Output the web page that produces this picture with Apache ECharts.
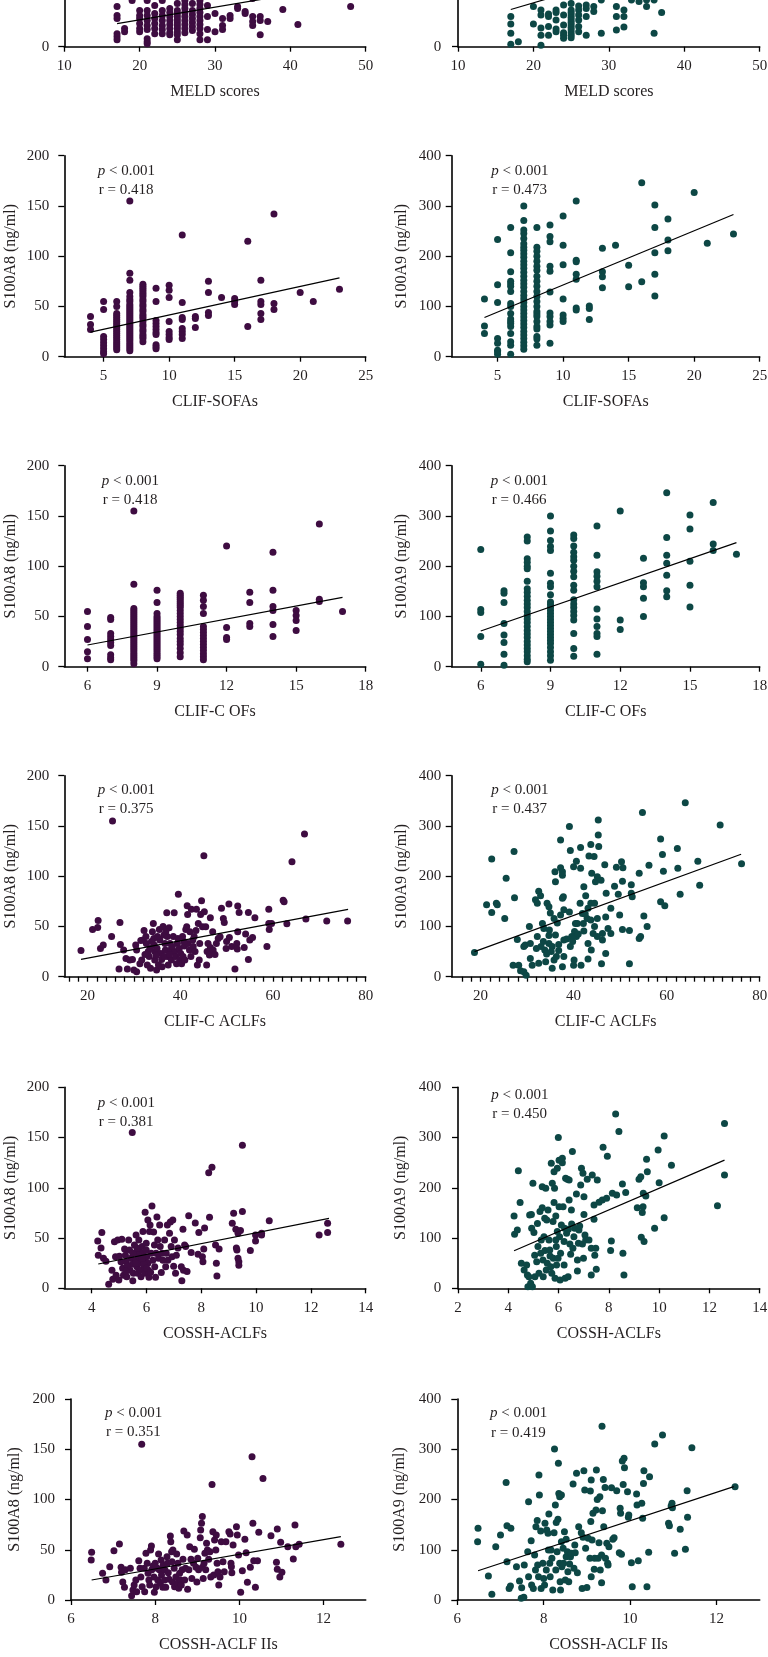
<!DOCTYPE html>
<html><head><meta charset="utf-8">
<script src="https://cdn.jsdelivr.net/npm/echarts@6/dist/echarts.min.js"></script>
<style>html,body{margin:0;padding:0;background:#fff}#c{width:768px;height:1657px}</style>
</head><body><div id="c"></div>
<script>
// ---------- tick labels ----------
const tickMELD = [10,20,30,40,50];
const tickSOFA = [5,10,15,20,25];
const tickOF = [6,9,12,15,18];
const tickACLF = [20,40,60,80];
const minorACLF = [16,18,20,22,24,26,28,30,32,34,36,38,40,42,44,46,48,50,52,54,56,58,60,62,64,66,68,70,72,74,76,78,80];
const tickCOSSH_L = [4,6,8,10,12,14];
const tickCOSSH_R = [2,4,6,8,10,12,14];
const tickCOSSH2 = [6,8,10,12];
const tickA8 = [0,50,100,150,200];
const tickA9 = [0,100,200,300,400];

// ---------- data ----------
const meldA8 = [[17,40],[17,31],[17,28],[17,13],[17,10],[17,7],[18,18],[18,15],[19,46],[20,36],[20,31],[20,28],[20,23],[20,18],[20,15],[21,46],[21,36],[21,31],[21,26],[21,21],[21,17],[21,8],[21,5],[21,3],[22,41],[22,33],[22,28],[22,23],[22,18],[22,13],[23,46],[23,36],[23,31],[23,26],[23,21],[23,17],[23,13],[24,38],[24,34],[24,30],[24,26],[24,22],[24,18],[24,14],[24,12],[25,43],[25,36],[25,33],[25,30],[25,27],[25,24],[25,21],[25,18],[25,15],[25,12],[25,7],[26,46],[26,42],[26,38],[26,34],[26,30],[26,26],[26,22],[26,18],[26,14],[27,43],[27,36],[27,32],[27,28],[27,24],[27,20],[27,16],[28,46],[28,42],[28,38],[28,34],[28,30],[28,26],[28,22],[28,18],[28,13],[28,7],[29,41],[29,30],[29,17],[29,7],[30,33],[30,15],[31,28],[31,21],[31,17],[32,31],[32,28],[33,40],[33,38],[34,35],[34,33],[35,30],[35,25],[35,21],[36,30],[36,26],[36,12],[37,25],[39,37],[41,22],[48,40],
  [17,55],[19,52],[20,60],[21,155],[22,50],[22,65],[23,55],[24,72],[24,58],[25,50],[25,63],[26,83],[26,55],[27,68],[27,50],[28,76],[28,58],[29,52],[29,115],[30,121],[30,55],[31,64],[32,50],[33,142],[34,57],[35,48],[36,66],[38,53],[40,71],[44,56]];
const meldA9 = [[17,60],[17,45],[17,27],[17,5],[18,10],[20,80],[20,45],[21,73],[21,63],[21,37],[21,23],[21,3],[22,65],[22,60],[22,40],[22,23],[23,73],[23,68],[23,53],[23,35],[23,30],[24,83],[24,63],[24,43],[24,28],[24,23],[24,17],[25,86],[25,73],[25,68],[25,63],[25,58],[25,53],[25,48],[25,43],[25,38],[25,33],[25,28],[25,23],[25,18],[26,81],[26,73],[26,63],[26,53],[26,40],[26,30],[27,83],[27,76],[27,60],[27,23],[28,80],[28,70],[29,93],[29,27],[31,80],[31,60],[31,33],[32,73],[32,60],[32,39],[33,93],[34,90],[35,93],[35,80],[36,93],[36,27],[37,68],
  [17,116],[19,143],[20,234],[20,130],[21,209],[21,110],[22,150],[22,172],[23,120],[23,199],[24,250],[24,105],[25,140],[25,300],[26,160],[26,217],[26,271],[27,125],[27,189],[28,230],[28,101],[29,157],[30,180],[30,260],[31,140],[31,311],[32,205],[33,120],[34,245],[35,160],[36,225],[38,302],[40,280],[42,346],[44,328],[46,222],[48,190]];

const sofaA8Cols = [[4,[40,32,27]],[5,[55,47,20,17,14,11,8,5,3]],
  [6,[55,50,43,41,39,37,35,33,31,29,27,25,23,21,19,17,15,13,11,9,7]],
  [7,[155,83,76,64,60,57,55,52,50,48,46,44,42,40,38,36,34,32,30,28,26,24,22,20,18,16,14,12,10,8,6]],
  [8,[72,70,68,66,64,62,60,57,55,52,50,47,45,42,40,38,35,32,30,27,25,22,20,18,15]],
  [9,[68,55,36,33,30,27,24,22,12,10,8]],[10,[71,66,59,35,25,22,19,17]],[11,[121,54,39,37,28,25,22,18]],
  [12,[40,38,29]],[13,[75,64,44,41]],[14,[59]],[15,[58,55,52]],[16,[115,30]],[17,[76,55,52,43,37]],
  [18,[142,53,47]],[20,[64]],[21,[55]],[23,[67]]];
const sofaA9Cols = [[4,[115,61,46]],[5,[233,143,108,36,27,13,10,5]],
  [6,[257,207,169,150,145,140,130,106,100,86,75,70,66,60,46,30,23,5]],
  [7,[300,271,252,245,235,225,218,212,205,198,190,183,176,168,160,152,145,138,130,122,115,108,100,93,86,79,72,65,58,50,43,36,29,22,15]],
  [8,[257,218,210,200,190,180,172,160,150,140,130,120,110,100,90,85,80,70,60,55,40,35,23]],
  [9,[262,239,229,180,170,129,87,80,70,63,27]],[10,[280,222,183,115,83,76,70]],[11,[310,192,189,164,154,97,93]],
  [12,[101,96,74]],[13,[216,169,159,137]],[14,[222]],[15,[182,139]],[16,[346,149]],[17,[302,257,207,164,121]],
  [18,[274,232,211]],[20,[327]],[21,[226]],[23,[244]]];

const ofA8Cols = [[6,[55,40,27,15,8]],[7,[49,47,33,30,27,24,21,12,9,7]],
  [8,[155,82,58,56,54,52,50,48,46,44,42,40,38,36,34,32,30,28,26,24,22,20,18,16,14,12,10,8,6,3]],
  [9,[76,64,53,50,48,46,44,42,40,38,36,34,32,30,28,26,24,22,20,18,16,14,12,10,8]],
  [10,[73,71,69,67,65,63,61,59,56,53,50,47,44,41,38,35,32,28,25,22,18,14,10]],
  [11,[71,66,60,53,40,37,34,31,28,25,22,19,16,13,10,7]],
  [12,[120,39,29,27]],[13,[74,64,43,40]],[14,[114,76,60,56,42,30]],[15,[56,51,46,36]],[16,[142,67,65]],[17,[55]]];
const ofA9Cols = [[6,[233,114,108,60,5]],[7,[151,146,128,86,63,48,25,3]],
  [8,[258,250,215,208,200,195,170,155,148,140,132,125,118,110,102,95,88,80,72,65,58,50,43,36,30,22,15,10]],
  [9,[300,270,251,239,231,186,166,159,143,129,124,118,112,106,100,94,88,82,76,70,64,58,52,46,38,30,22,13]],
  [10,[262,255,240,228,219,212,200,190,179,162,152,133,125,118,110,102,93,66,36,21]],
  [11,[280,222,189,180,170,159,115,95,80,66,60,25]],
  [12,[310,93,74]],[13,[216,167,159,136,100]],[14,[346,257,222,206,182,151,139]],[15,[302,274,210,162,119]],[16,[327,244,231]],[17,[224]]];

const aclfA8 = [[18.6,26],[21.1,47],[22.3,56],[22.2,49],[22.8,28],[23.4,31.5],[25.2,40],[25.4,155],[27,54],[27.1,32],[27.8,26.5],[26.8,7.6],[28.3,18],[29.1,16.6],[28.6,7.6],[29.7,17],[30,6.6],[30.6,5],[30.4,31.5],[30.6,26.5],[31.3,13],[31.7,16.6],[32.2,46],[32,36.5],[32.6,40],[32.7,33],[33.1,25],[32.9,11.6],[33.3,20],[33.6,8.3],[34.2,53],[34,44.8],[34.3,38],[34.4,31.5],[34.5,25],[34.5,16.6],[34.9,6.6],[35,28],[35.5,47],[35.6,36.5],[35.8,23],[36,17],[36.1,10],[36.3,50],[36.5,41.5],[36.7,33],[36.8,26.5],[37.1,63.7],[37.2,40],[37.3,20],[37.4,11.6],[37.6,48.8],[37.8,33],[37.9,26.5],[38.1,16.6],[38.5,40],[38.7,63.7],[38.8,25],[39,20],[39.2,13],[39.6,82],[39.4,33],[39.8,28],[39.9,16.6],[40.1,23],[40.3,13],[40.5,40],[40.6,20],[40.9,30.5],[41,16.6],[41.2,47],[41.4,49.7],[41.5,70.6],[41.6,62],[41.7,33],[42,26.5],[42.1,44.8],[42.4,67],[42.7,36.5],[42.8,30],[43.2,25],[43.4,46],[43.5,67],[43.7,11.6],[43.9,53],[44.1,16.6],[44.2,33],[44.4,62],[44.6,75.6],[44.8,49.7],[45.1,120.4],[45.2,64.7],[45.5,49.7],[45.7,11.6],[45.8,25],[46,33],[46.3,21.5],[46.5,29],[46.5,58.7],[47,44.8],[47.1,26.5],[47.5,22],[47.8,33],[48.2,38],[48.6,39.8],[48.9,68],[49.3,58],[49.5,54],[49.9,28],[50,35],[50.5,72.3],[50.6,39],[51.1,30],[51.8,7.6],[52.2,33],[52.3,27.5],[52.4,44.8],[52.4,70.3],[52.7,64],[53.8,29],[54.1,42.5],[54.7,64],[54.7,17],[55,36.5],[55.6,39],[56.1,58.7],[58.7,30],[59.1,67],[59.1,53],[59.2,47],[59.7,53],[62.2,76],[62.4,74.6],[63,52.7],[64.1,114.4],[66.8,142],[67.1,57.4],[71.6,55.4],[76.1,55.4],
  [33.5,28],[34.8,21],[35.3,12],[36.6,20],[37.7,22],[38.3,30],[33.8,35],[35.1,40],[36.9,45],[31.5,36],[32.4,22],[39.5,38],[40.8,35],[42.3,20],[43,40]];
const aclfA9 = [[18.7,48],[21.3,143],[22.4,234],[22.4,128],[23.4,146],[23.6,143],[25.2,116],[25.5,196],[27.2,249],[27.3,157],[27,23],[27.9,74],[28.2,23],[28.6,12],[29.3,10],[29.8,3],[29.3,60],[29.6,63],[30.5,100],[30.7,66],[30.7,36],[31.1,23],[31.8,153],[32.2,146],[32.5,170],[32.9,161],[32.2,80],[32,56],[32.5,27],[33.3,106],[33.6,96],[33.8,53],[34,30],[34.3,146],[34.7,139],[35,127],[34.8,93],[34.7,82],[34.7,66],[35.4,60],[35.8,33],[35.4,17],[36,209],[36.1,189],[35.8,116],[36.5,107],[36.1,83],[36.8,52],[37.2,272],[37.2,217],[37.6,209],[37.6,202],[37.8,159],[37.6,156],[37.9,133],[37.2,123],[37.9,73],[37.9,40],[37.6,20],[39.1,299],[39.3,251],[39.1,129],[39.6,80],[39.3,60],[40,219],[40.2,90],[40.4,106],[40.1,33],[40,23],[40.6,230],[40.8,106],[40.6,80],[41.5,216],[41.5,257],[41.4,146],[41.9,126],[41.6,23],[42.2,179],[42.6,161],[42.1,106],[42.2,91],[43.1,136],[42.9,116],[43.1,66],[43.1,35],[43.3,240],[43.7,263],[43.7,146],[43.7,113],[43.8,53],[43.9,206],[44.4,239],[44.5,100],[44.5,146],[44.2,86],[44.7,189],[45.1,199],[45.3,282],[45.3,312],[45.4,259],[45.1,116],[45.1,80],[45.9,192],[46.2,73],[46.2,86],[46,26],[46.7,223],[46.9,119],[47,166],[46.9,46],[47.4,96],[48,86],[48,136],[48.8,180],[49.2,218],[49.6,164],[49.9,123],[50.3,229],[50.5,190],[50.5,94],[50.6,217],[52,92],[52,26],[52.4,183],[52.4,166],[52.6,159],[54.1,206],[54.1,76],[54.4,80],[54.8,327],[55.1,121],[55.8,100],[56.2,222],[58.7,274],[59.1,243],[59.3,210],[58.7,149],[59.6,141],[62.3,255],[62.4,216],[62.9,164],[64,346],[66.7,230],[67.1,182],[71.5,302],[76.1,225],
  [33.5,70],[34.2,45],[35.2,50],[36.3,40],[38.5,75],[39.8,70],[41,85],[42.5,125],[36.8,64],[33,60]];

const cosshA8 = [[4.22,47],[4.37,55.4],[4.24,33],[4.34,40],[4.43,30],[4.52,27],[4.62,4],[4.77,9],[4.83,46.4],[4.87,31.5],[4.74,18],[4.89,13],[4.95,48],[4.99,8.3],[5.01,32],[5.07,26.5],[5.1,48.8],[5.13,20],[5.16,13],[5.2,39],[5.23,33],[5.26,26.5],[5.28,11.6],[5.35,48],[5.38,38],[5.4,18],[5.44,30],[5.48,24],[5.5,7.6],[5.48,155],[5.52,15],[5.56,43],[5.59,35],[5.62,53],[5.62,28],[5.65,21.5],[5.68,15],[5.72,48],[5.72,38],[5.74,31.5],[5.77,25],[5.8,18],[5.8,11.6],[5.84,41.5],[5.87,35],[5.87,56.4],[5.89,28],[5.93,21.5],[5.95,15],[5.95,75.6],[5.99,44.8],[5.99,38],[6.01,31.5],[6.05,68],[6.05,25],[6.07,18],[6.09,11],[6.11,56.4],[6.13,63],[6.17,35],[6.2,82],[6.23,28],[6.26,56],[6.29,43],[6.3,21.5],[6.33,11],[6.35,35],[6.38,71],[6.41,48],[6.44,30],[6.48,63],[6.5,41.5],[6.54,15.6],[6.57,35],[6.6,28],[6.66,48],[6.7,21.5],[6.72,35],[6.76,63],[6.78,28],[6.84,54.7],[6.87,66],[6.9,41.5],[6.93,31.5],[6.96,68],[6.99,22],[7.02,48],[7.06,15],[7.09,33],[7.15,40],[7.27,21.5],[7.29,7.6],[7.33,58.7],[7.35,18],[7.39,43],[7.43,41.5],[7.48,16.6],[7.54,72.3],[7.63,35.5],[7.78,65],[7.88,34],[7.91,55.4],[8.04,31.5],[8.06,26.5],[8.12,60],[8.09,39],[8.27,115],[8.3,70.6],[8.39,120.4],[8.52,43],[8.55,25],[8.57,12.3],[8.65,39],[9.13,64.7],[9.18,74.6],[9.26,58.7],[9.28,40],[9.3,38],[9.34,30],[9.37,26.5],[9.37,23],[9.34,54.7],[9.43,57.4],[9.5,142.3],[9.5,76.3],[9.79,37.5],[9.98,53],[9.98,47],[10.2,54.7],[10.2,53],[10.48,67.3],[12.3,53],[12.61,64.7],[12.61,55.4],
  [5.3,22],[5.6,25],[5.7,33],[5.9,24],[6.0,20],[5.5,35],[5.85,30],[6.15,16],[5.25,17],[5.65,40]];
const cosshA9 = [[4.23,144],[4.25,107.5],[4.36,116],[4.4,234],[4.47,170.5],[4.52,50],[4.63,36.5],[4.73,46.4],[4.76,26.5],[4.78,3.3],[4.82,23],[4.85,146],[4.89,10],[4.92,147],[4.93,119.4],[4.96,3.3],[4.98,209],[5.02,110.8],[5.05,66],[5.06,23],[5.13,53],[5.16,129],[5.18,83],[5.22,30],[5.26,152.6],[5.29,69.7],[5.31,96],[5.35,160.5],[5.35,202],[5.38,56.4],[5.39,23],[5.42,102.8],[5.45,139.3],[5.46,75],[5.49,199],[5.51,36.5],[5.53,136],[5.55,50],[5.58,156],[5.62,96],[5.65,76.3],[5.66,64.3],[5.69,43],[5.71,249],[5.73,30],[5.75,209],[5.78,132.7],[5.79,59.7],[5.82,170.5],[5.82,232],[5.84,199],[5.86,20],[5.89,144],[5.89,96],[5.91,83],[5.92,46.4],[5.95,239],[5.95,112.8],[5.98,59.7],[5.99,300],[6.02,255],[6.02,162.5],[6.04,102.8],[6.06,16.6],[6.08,69.7],[6.11,126],[6.15,250],[6.15,258.7],[6.18,162.5],[6.22,93],[6.22,46.4],[6.24,119.4],[6.26,20],[6.28,219],[6.32,109.5],[6.35,217],[6.38,23],[6.39,117.4],[6.42,175.8],[6.42,215.6],[6.45,88],[6.48,67.7],[6.51,156],[6.52,128],[6.55,272],[6.57,79.6],[6.61,102.8],[6.64,119.4],[6.71,187.7],[6.75,56.4],[6.75,34.5],[6.79,89.6],[6.81,116],[6.84,124],[6.88,205.6],[6.91,239],[6.95,88],[6.97,229],[6.99,59.7],[7.01,147],[7.01,182.4],[7.05,106],[7.08,96],[7.14,217],[7.21,96],[7.34,225.5],[7.3,79.6],[7.3,26.5],[7.41,137.3],[7.41,165.8],[7.44,66],[7.48,79.6],[7.5,37.8],[7.54,215.6],[7.61,171],[7.74,175.8],[7.77,280.6],[7.91,179],[7.94,263],[8.07,75],[8.1,94],[8.14,189],[8.27,347],[8.31,185.7],[8.4,311.8],[8.54,207.6],[8.56,69.7],[8.6,26.5],[8.67,190.4],[9.13,160.5],[9.2,217],[9.27,222],[9.29,101.5],[9.33,151],[9.36,162.5],[9.37,189],[9.4,93],[9.47,183.7],[9.5,257],[9.53,232],[9.82,119.4],[9.96,275],[10,210],[10.2,303],[10.2,140.6],[10.49,245],[12.32,164.5],[12.6,328],[12.6,225.5]];

const cossh2A8 = [[6.49,47.4],[6.48,39.8],[6.75,26.5],[6.83,20],[6.92,33],[7.02,49],[7.15,55.7],[7.19,32.5],[7.2,27.5],[7.23,18],[7.27,12.6],[7.29,30],[7.41,31.5],[7.44,4.3],[7.47,10],[7.5,15],[7.54,20],[7.56,8.3],[7.61,39],[7.64,31.5],[7.66,23],[7.68,155],[7.69,13.3],[7.74,31.5],[7.75,8.3],[7.78,46.4],[7.81,36.5],[7.83,26.5],[7.85,20],[7.87,15],[7.89,49.7],[7.91,53.7],[7.92,30],[7.95,33.8],[7.97,23],[7.98,7.6],[8,36.5],[8.02,13.3],[8.05,31.5],[8.06,20],[8.08,45.8],[8.1,30],[8.12,16.6],[8.14,39.8],[8.15,25],[8.18,12.6],[8.19,34.8],[8.22,20],[8.23,30],[8.25,12.6],[8.28,43],[8.29,36.5],[8.31,27],[8.33,20.6],[8.36,63.7],[8.37,58],[8.39,48],[8.4,38],[8.41,18],[8.42,49.7],[8.45,31.5],[8.46,13.3],[8.49,23],[8.51,45.8],[8.53,16.6],[8.54,36.5],[8.56,11.6],[8.58,26.5],[8.6,20],[8.62,15],[8.64,30],[8.66,40.5],[8.68,68.7],[8.7,20],[8.72,31.5],[8.76,64.7],[8.77,10.6],[8.8,30],[8.82,53],[8.85,40.5],[8.87,21.5],[8.91,36.5],[8.93,50.4],[8.97,32.5],[8.99,18],[9.01,41.5],[9.03,30],[9.07,62],[9.08,69.7],[9.1,76.3],[9.12,83],[9.12,32.5],[9.14,21.5],[9.16,36.5],[9.18,46.4],[9.2,30],[9.22,56.4],[9.24,49.7],[9.27,40.5],[9.3,48],[9.32,23],[9.35,115],[9.37,68],[9.39,25],[9.41,59.7],[9.44,49.7],[9.45,64.7],[9.47,36.5],[9.49,28],[9.51,15],[9.54,23],[9.57,58],[9.61,38],[9.64,28],[9.68,58],[9.75,68],[9.78,65.7],[9.8,36.5],[9.81,33],[9.82,27],[9.85,54.7],[9.93,73],[9.95,64.7],[9.98,44.8],[10.03,7.6],[10.07,29],[10.13,60.4],[10.16,47],[10.19,17.6],[10.26,32.5],[10.3,142.6],[10.32,76.3],[10.34,39],[10.38,12.6],[10.43,39],[10.46,67.3],[10.56,121],[10.75,64],[10.88,37.5],[10.9,70.6],[10.9,30.5],[10.96,23],[10.98,57.4],[11.01,27.5],[11.15,53],[11.28,40.8],[11.32,74.6],[11.34,53],[11.42,55.4],[12.41,55.4]];
const cossh2A9 = [[6.48,142.6],[6.47,116],[6.72,47.8],[6.8,11.3],[6.89,106],[7,129.4],[7.13,234],[7.15,76.3],[7.15,148],[7.24,142.6],[7.2,23],[7.23,27.9],[7.37,66.3],[7.44,37.8],[7.48,3.3],[7.49,24.5],[7.54,5.3],[7.55,69.7],[7.63,96],[7.65,195.7],[7.65,46.4],[7.71,118],[7.72,30],[7.76,23],[7.79,89.6],[7.81,59.7],[7.82,146],[7.85,158],[7.86,69.7],[7.88,46.4],[7.89,249],[7.9,209],[7.93,137.3],[7.94,23],[7.98,73],[8,43],[8.02,30],[8.03,152.6],[8.06,59.7],[8.07,139.3],[8.1,132.7],[8.11,99.5],[8.12,171],[8.14,73],[8.15,46.4],[8.17,99.5],[8.19,83],[8.21,20],[8.24,134],[8.25,300.5],[8.27,189],[8.28,59.7],[8.29,154],[8.31,96],[8.33,160.5],[8.34,272],[8.35,212],[8.37,205.6],[8.37,73],[8.38,36.5],[8.39,20],[8.41,209],[8.41,116],[8.42,66.3],[8.45,102.8],[8.46,73],[8.48,136],[8.5,39.8],[8.52,120.7],[8.52,86],[8.55,96],[8.56,56.4],[8.58,36.5],[8.6,71.6],[8.62,86],[8.64,93],[8.68,231],[8.7,63],[8.72,109.5],[8.73,94],[8.76,252],[8.78,54.4],[8.81,146],[8.87,134],[8.89,23],[8.91,124.7],[8.93,257],[8.95,219],[8.97,102.8],[9,25],[9.03,122.7],[9.07,83],[9.08,217],[9.09,156],[9.1,46.4],[9.1,239],[9.12,119.4],[9.14,172.5],[9.17,61],[9.18,83],[9.21,179],[9.22,258.7],[9.24,200],[9.26,83],[9.28,114],[9.3,205.6],[9.31,59.7],[9.34,89.6],[9.34,34.5],[9.35,346],[9.36,177.8],[9.38,240],[9.39,146],[9.42,224],[9.43,83],[9.46,112.8],[9.48,73],[9.49,69.7],[9.51,106],[9.57,223.5],[9.6,120.7],[9.63,124],[9.69,217.6],[9.75,94],[9.77,182.4],[9.78,172.5],[9.8,91],[9.82,276.6],[9.84,230],[9.86,282],[9.87,263],[9.94,215.6],[9.96,164.5],[9.97,169],[10.03,74.3],[10.05,26.5],[10.15,211],[10.16,189],[10.19,78.3],[10.27,192.4],[10.29,162.5],[10.31,232],[10.32,257.4],[10.39,26.5],[10.43,95],[10.45,245.4],[10.57,310.4],[10.75,328.4],[10.89,152.6],[10.91,148],[10.95,187],[10.97,192.4],[10.98,183.7],[11.03,93],[11.16,140.6],[11.28,100.8],[11.32,217.6],[11.33,164.5],[11.43,303],[12.43,225.5]];

// regression line end points
const fitMeldA8 = [[17,23],[48,62]];
const fitMeldA9 = [[17,74],[48,211]];
const fitSofaA8 = [[4,24.5],[23,78.5]];
const fitSofaA9 = [[4,78],[23,283]];
const fitOfA8 = [[6,21.6],[17,69]];
const fitOfA9 = [[6,71],[17,247]];
const fitAclfA8 = [[18.6,17.3],[76.2,67]];
const fitAclfA9 = [[18.7,49.8],[76,243.6]];
const fitCosshA8 = [[4.24,24.2],[12.66,69.6]];
const fitCosshA9 = [[4.23,74.8],[12.6,255]];
const fitCossh2A8 = [[6.49,19.9],[12.41,63]];
const fitCossh2A9 = [[6.48,58.3],[12.4,225.5]];

const rValues = [null,null,'0.418','0.473','0.418','0.466','0.375','0.437','0.381','0.450','0.351','0.419'];

// ---------- layout ----------
function cols(list){const out=[];list.forEach(([x,ys])=>ys.forEach(y=>out.push([x,y])));return out;}
const FONT = '"Liberation Serif","Times New Roman",serif';
const TXT = '#231f20';
const C8 = '#3e0c41', C9 = '#0d4745';
const H = 201;
const panels = [
 {g:[64.3,-154.3,301.4], xr:[10,50], lab:tickMELD, tk:tickMELD, xn:'MELD scores', d:meldA8, f:fitMeldA8, a9:false, ylm:15, yng:45.5, note:null},
 {g:[458,-154.3,301.7], xr:[10,50], lab:tickMELD, tk:tickMELD, xn:'MELD scores', d:meldA9, f:fitMeldA9, a9:true, ylm:16.7, yng:49.5, note:null},
 {g:[64.3,155.7,301.4], xr:[2,25], lab:tickSOFA, tk:tickSOFA, xn:'CLIF-SOFAs', d:cols(sofaA8Cols), f:fitSofaA8, a9:false, ylm:15, yng:45.5, note:[97.7,170.7]},
 {g:[451.7,155.7,308], xr:[1.5,25], lab:tickSOFA, tk:tickSOFA, xn:'CLIF-SOFAs', d:cols(sofaA9Cols), f:fitSofaA9, a9:true, ylm:10.4, yng:41.5, note:[491.3,170.7]},
 {g:[64.3,465.7,301.4], xr:[5,18], lab:tickOF, tk:tickOF, xn:'CLIF-C OFs', d:cols(ofA8Cols), f:fitOfA8, a9:false, ylm:15, yng:45.5, note:[101.7,480.7]},
 {g:[451.7,465.7,308], xr:[4.75,18], lab:tickOF, tk:tickOF, xn:'CLIF-C OFs', d:cols(ofA9Cols), f:fitOfA9, a9:true, ylm:10.4, yng:41.5, note:[490.7,480.7]},
 {g:[64.3,775.7,301.4], xr:[15,80], lab:tickACLF, tk:minorACLF, xn:'CLIF-C ACLFs', d:aclfA8, f:fitAclfA8, a9:false, ylm:15, yng:45.5, note:[97.7,790]},
 {g:[451.7,775.7,308], xr:[13.8,80], lab:tickACLF, tk:minorACLF, xn:'CLIF-C ACLFs', d:aclfA9, f:fitAclfA9, a9:true, ylm:10.4, yng:41.5, note:[491.3,790]},
 {g:[64.3,1087.3,301.4], xr:[3,14], lab:tickCOSSH_L, tk:tickCOSSH_L, xn:'COSSH-ACLFs', d:cosshA8, f:fitCosshA8, a9:false, ylm:15, yng:45.5, note:[97.7,1102.7]},
 {g:[458,1087.3,301.7], xr:[2,14], lab:tickCOSSH_R, tk:tickCOSSH_R, xn:'COSSH-ACLFs', d:cosshA9, f:fitCosshA9, a9:true, ylm:16.7, yng:49.5, note:[491.3,1095]},
 {g:[71,1399,294.7], xr:[6,13], lab:tickCOSSH2, tk:tickCOSSH2, xn:'COSSH-ACLF IIs', d:cossh2A8, f:fitCossh2A8, a9:false, ylm:16, yng:48.5, note:[105,1412.7]},
 {g:[457.3,1399,302.4], xr:[6,13], lab:tickCOSSH2, tk:tickCOSSH2, xn:'COSSH-ACLF IIs', d:cossh2A9, f:fitCossh2A9, a9:true, ylm:16, yng:49.5, note:[490,1413.3]}
];

const axisLine = {show:true, onZero:false, lineStyle:{color:'#000', width:1.6}};
const grid=[], xAxis=[], yAxis=[], series=[], graphic=[];
panels.forEach((p,i)=>{
  grid.push({left:p.g[0], top:p.g[1], width:p.g[2], height:H, containLabel:false, outerBoundsMode:'none'});
  xAxis.push({type:'value', gridIndex:i, min:p.xr[0], max:p.xr[1],
    axisLine:axisLine, splitLine:{show:false},
    axisTick:{show:true, inside:false, length:5, customValues:p.tk, lineStyle:{color:'#000', width:1.3}},
    axisLabel:{customValues:p.lab, margin:12, fontFamily:FONT, fontSize:15, color:TXT},
    name:p.xn, nameLocation:'middle', nameGap:37, nameTextStyle:{fontFamily:FONT, fontSize:16, color:TXT}});
  yAxis.push({type:'value', gridIndex:i, min:0, max:p.a9?400:200, interval:p.a9?100:50,
    axisLine:axisLine, splitLine:{show:false},
    axisTick:{show:true, inside:false, length:6, lineStyle:{color:'#000', width:1.3}},
    axisLabel:{margin:p.ylm, fontFamily:FONT, fontSize:15, color:TXT},
    name:p.a9?'S100A9 (ng/ml)':'S100A8 (ng/ml)', nameLocation:'middle', nameGap:p.yng,
    nameTextStyle:{fontFamily:FONT, fontSize:16, color:TXT}});
  series.push({type:'scatter', xAxisIndex:i, yAxisIndex:i, data:p.d, symbol:'circle', symbolSize:7,
    itemStyle:{color:p.a9?C9:C8, opacity:1}, z:2, silent:true});
  series.push({type:'line', xAxisIndex:i, yAxisIndex:i, data:p.f, symbol:'none',
    lineStyle:{color:'#000', width:1.2}, z:3, silent:true});
  if(p.note){
    graphic.push({type:'text', x:p.note[0], y:p.note[1], style:{text:'{i|p} < 0.001',
      rich:{i:{fontStyle:'italic', fontFamily:FONT, fontSize:15, fill:TXT}},
      font:'15px "Liberation Serif"', fill:TXT, verticalAlign:'middle'}});
    graphic.push({type:'text', x:p.note[0]+1, y:p.note[1]+19.5, style:{text:'r = '+rValues[i],
      font:'15px "Liberation Serif"', fill:TXT, verticalAlign:'middle'}});
  }
});

const chart = echarts.init(document.getElementById('c'), null, {renderer:'canvas'});
chart.setOption({animation:false, backgroundColor:'#fff', grid, xAxis, yAxis, series, graphic});
</script></body></html>
